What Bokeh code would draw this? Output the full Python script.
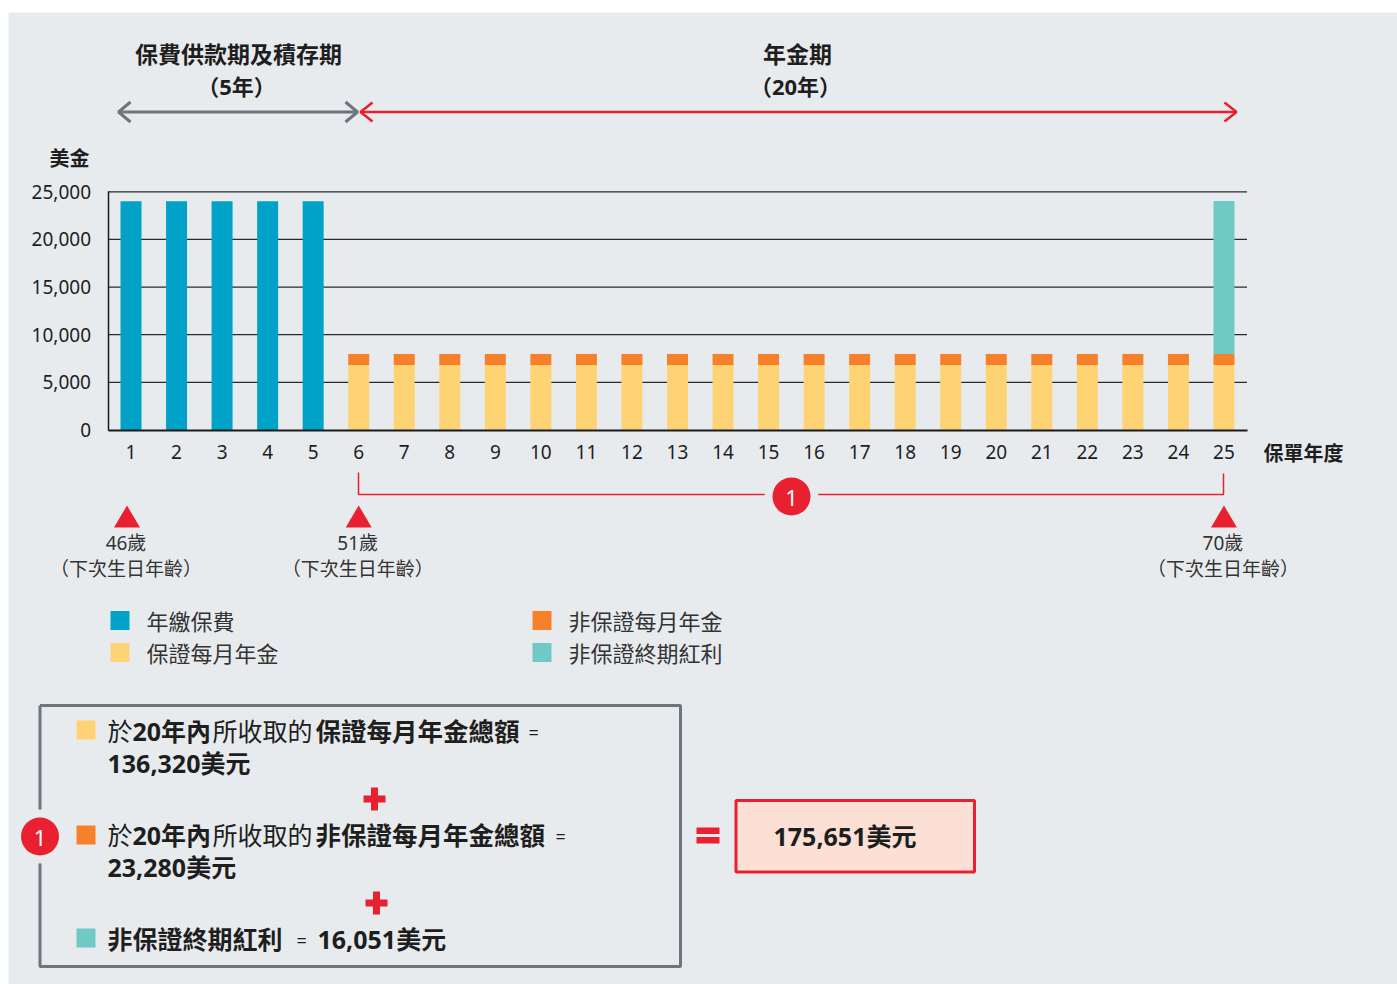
from bokeh.plotting import figure
from bokeh.models import Range1d, LinearAxis, FixedTicker, NumeralTickFormatter, InlineStyleSheet
from bokeh.core.properties import value
from bokeh.embed import file_html
from bokeh.resources import INLINE

# ---------------- data ----------------
years_all = [1, 2, 3, 4, 5, 6, 7, 8, 9, 10, 11, 12, 13, 14, 15, 16, 17, 18, 19, 20, 21, 22, 23, 24, 25]
years_pay = [1, 2, 3, 4, 5]
premium = [24000, 24000, 24000, 24000, 24000]
years_annuity = [6, 7, 8, 9, 10, 11, 12, 13, 14, 15, 16, 17, 18, 19, 20, 21, 22, 23, 24, 25]
guaranteed_annuity = [6816, 6816, 6816, 6816, 6816, 6816, 6816, 6816, 6816, 6816,
                      6816, 6816, 6816, 6816, 6816, 6816, 6816, 6816, 6816, 6816]
nonguaranteed_annuity = [1164, 1164, 1164, 1164, 1164, 1164, 1164, 1164, 1164, 1164,
                         1164, 1164, 1164, 1164, 1164, 1164, 1164, 1164, 1164, 1164]
bonus_year = [25]
terminal_bonus = [16051]
y_ticks = [0, 5000, 10000, 15000, 20000, 25000]

legend_labels = ["年繳保費", "保證每月年金", "非保證每月年金", "非保證終期紅利"]
age_labels = ["46歲", "51歲", "70歲"]
age_years = [1, 6, 25]

# ---------------- style ----------------
BG = "#e8ebee"
TXT = "#1e1e1e"
TXT2 = "#333333"
BLUE = "#00a3c7"
YELLOW = "#fed374"
ORANGE = "#f6812a"
TEAL = "#6fc9c5"
RED = "#e8202f"
GREY = "#6d757d"
FONT = "'Noto Sans', 'Noto Sans CJK TC', sans-serif"
FONT_CJK = "'Noto Sans CJK TC', sans-serif"

# page-pixel geometry of the chart
X1_PX = 130.5          # page x of policy year 1
DX = 45.54             # px per policy year
Y0_PX = 429.5          # page y of 0 USD
KY = 238.2 / 25000.0   # px per USD
AX_L, AX_R = 107.5, 1246.5


def xd(px):
    return 1 + (px - X1_PX) / DX


def yd(py):
    return (Y0_PX - py) / KY


W, H = 1397, 984
p = figure(width=W, height=H, output_backend="svg", toolbar_location=None,
           x_range=Range1d(xd(0), xd(W)), y_range=Range1d(yd(H), yd(0)),
           x_axis_type=None, y_axis_type=None, min_border=0,
           outline_line_color=None, background_fill_color="white",
           border_fill_color="white")
p.stylesheets = [InlineStyleSheet(css=":host { text-spacing-trim: space-all; }")]
p.extra_x_ranges = {"px": Range1d(0, W)}
p.extra_y_ranges = {"px": Range1d(H, 0)}
PX = dict(x_range_name="px", y_range_name="px")

# background panel
p.quad(left=[8], right=[W], top=[12], bottom=[H], fill_color=BG, line_color=None, **PX)


def T(x, y, s, size, bold=False, align="left", color=TXT, font=FONT):
    p.text(x=[x], y=[y], text=[s], text_font=value(font), text_font_size=f"{size}px",
           text_font_style="bold" if bold else "normal", text_align=align,
           text_baseline="middle", text_color=color, **PX)


def box(l, r, t, b, color):
    p.quad(left=[l], right=[r], top=[t], bottom=[b], fill_color=color, line_color=None, **PX)


# ---------------- chart ----------------
grid_vals = [v for v in y_ticks if v > 0]
p.segment(x0=[xd(AX_L)] * len(grid_vals), x1=[xd(AX_R)] * len(grid_vals),
          y0=grid_vals, y1=grid_vals, line_color="#2a2a2a", line_width=1.3)

BW = 21 / DX
p.vbar(x=years_pay, top=premium, bottom=0, width=BW, fill_color=BLUE, line_color=None)
p.vbar(x=years_annuity, top=guaranteed_annuity, bottom=0, width=BW, fill_color=YELLOW, line_color=None)
tops = [g + n for g, n in zip(guaranteed_annuity, nonguaranteed_annuity)]
p.vbar(x=years_annuity, top=tops, bottom=guaranteed_annuity, width=BW, fill_color=ORANGE, line_color=None)
p.vbar(x=bonus_year, top=[tops[-1] + terminal_bonus[0]], bottom=[tops[-1]], width=BW,
       fill_color=TEAL, line_color=None)

yaxis = LinearAxis(fixed_location=xd(AX_L), bounds=(0, 25000), ticker=FixedTicker(ticks=y_ticks),
                   formatter=NumeralTickFormatter(format="0,0"))
yaxis.axis_line_color = "#1a1a1a"
yaxis.axis_line_width = 1.5
yaxis.major_tick_line_color = None
yaxis.minor_tick_line_color = None
yaxis.major_tick_out = 0
yaxis.major_tick_in = 0
yaxis.major_label_standoff = 17
yaxis.major_label_text_font = FONT
yaxis.major_label_text_font_size = "19px"
yaxis.major_label_text_color = TXT
p.add_layout(yaxis, "left")

xaxis = LinearAxis(fixed_location=0, bounds=(xd(AX_L), xd(AX_R)), ticker=FixedTicker(ticks=years_all))
xaxis.axis_line_color = "#1a1a1a"
xaxis.axis_line_width = 2
xaxis.major_tick_line_color = None
xaxis.minor_tick_line_color = None
xaxis.major_tick_out = 0
xaxis.major_tick_in = 0
xaxis.major_label_standoff = 15
xaxis.major_label_text_font = FONT
xaxis.major_label_text_font_size = "19px"
xaxis.major_label_text_color = TXT
p.add_layout(xaxis, "below")

T(69, 158, "美金", 20, bold=True, align="center")
T(1263, 453, "保單年度", 20, bold=True)

# ---------------- period headers & arrows ----------------
T(238, 53, "保費供款期及積存期", 23, bold=True, align="center")
T(236, 85, "（5年）", 22, bold=True, align="center")
T(797, 53, "年金期", 23, bold=True, align="center")
T(795, 85, "（20年）", 22, bold=True, align="center")

p.line(x=[118, 357], y=[111.5, 111.5], line_color=GREY, line_width=3, **PX)
p.multi_line(xs=[[130, 118, 130], [345, 357, 345]], ys=[[101.5, 111.5, 121.5], [101.5, 111.5, 121.5]],
             line_color=GREY, line_width=3, **PX)
p.line(x=[360, 1236], y=[111.5, 111.5], line_color=RED, line_width=2.5, **PX)
p.multi_line(xs=[[372, 360, 372], [1224, 1236, 1224]], ys=[[102, 111.5, 121], [102, 111.5, 121]],
             line_color=RED, line_width=2.5, **PX)

# ---------------- bracket & markers ----------------
p.line(x=[358, 358, 1223, 1223], y=[472, 494, 494, 473], line_color=RED, line_width=1.5, **PX)
p.scatter(x=[791], y=[496], size=54, marker="circle", fill_color=BG, line_color=None, **PX)
p.scatter(x=[791], y=[496], size=38, marker="circle", fill_color=RED, line_color=None, **PX)
T(791, 497, "1", 22, align="center", color="white")

for yr, lab in zip(age_years, age_labels):
    cx = X1_PX + (yr - 1) * DX - 4 if yr == 1 else X1_PX + (yr - 1) * DX
    p.patch(x=[cx - 13, cx, cx + 13], y=[527, 505, 527], fill_color=RED, line_color=None, **PX)
    T(cx - 1, 542, lab, 19, align="center", color=TXT2)
    T(cx - 1, 567, "（下次生日年齡）", 19, align="center", color=TXT2, font=FONT_CJK)

# ---------------- legend ----------------
leg = [(110, 620, BLUE), (110, 652, YELLOW), (532, 620, ORANGE), (532, 652, TEAL)]
for (lx, ly, c), lab in zip(leg, legend_labels):
    box(lx, lx + 19, ly - 9.5, ly + 9.5, c)
    T(lx + 36, ly, lab, 22, color=TXT2)

# ---------------- summary box ----------------
p.line(x=[39.5, 680, 680, 39.5, 39.5], y=[705, 705, 966, 966, 705], line_color=GREY, line_width=3, **PX)
p.scatter(x=[39.5], y=[836], size=54, marker="circle", fill_color=BG, line_color=None, **PX)
p.scatter(x=[39.5], y=[836], size=38, marker="circle", fill_color=RED, line_color=None, **PX)
T(39.5, 837, "1", 22, align="center", color="white")

box(76, 95, 720, 739, YELLOW)
T(107, 730, "於", 25)
T(132, 730, "20年內", 25, bold=True)
T(212, 730, "所收取的", 25)
T(315, 730, "保證每月年金總額", 25.5, bold=True)
T(528, 731, "=", 18)
T(107, 762, "136,320美元", 25, bold=True)

# plus
box(370.5, 377.5, 787, 810, RED)
box(363, 385, 795, 802, RED)

box(76, 95, 825, 844, ORANGE)
T(107, 834, "於", 25)
T(132, 834, "20年內", 25, bold=True)
T(212, 834, "所收取的", 25)
T(315, 834, "非保證每月年金總額", 25.5, bold=True)
T(555, 835, "=", 18)
T(107, 866, "23,280美元", 25, bold=True)

box(372.5, 379.5, 891, 914, RED)
box(365, 387, 899, 906, RED)

box(76, 95, 928, 947, TEAL)
T(107, 938, "非保證終期紅利", 25, bold=True)
T(296, 939, "=", 18)
T(317, 938, "16,051美元", 25, bold=True)

# equals & result
box(696, 719, 827, 833.5, RED)
box(696, 719, 836.5, 843, RED)
p.quad(left=[735.5], right=[974], top=[800], bottom=[871.5], fill_color="#fcdfd5",
       line_color=RED, line_width=3, **PX)
T(773, 835, "175,651美元", 25, bold=True)

open("out.html", "w").write(file_html(p, INLINE))
